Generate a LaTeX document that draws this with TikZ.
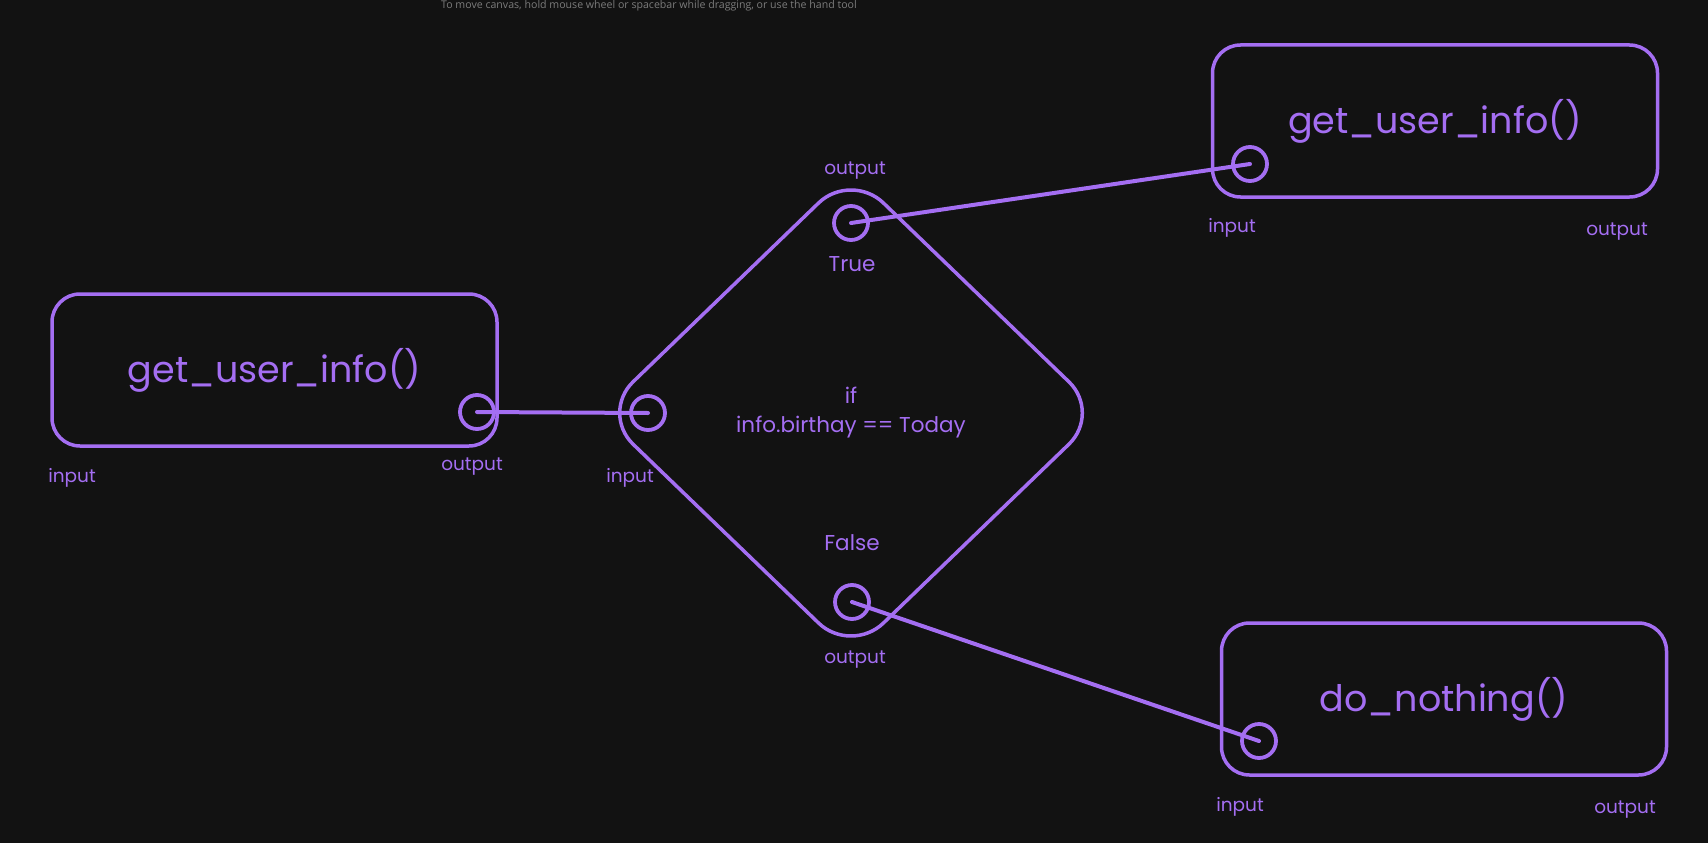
\documentclass[tikz,border=0pt]{standalone}
\usepackage{fontspec}
\setmainfont{Poppins}
\newfontfamily\hintfont{Open Sans}
\usetikzlibrary{shapes.geometric}
\definecolor{bgc}{HTML}{121212}
\definecolor{pur}{HTML}{A46EF2}
\definecolor{hintc}{HTML}{7C7C7C}
\tikzset{
  fnbox/.style={draw=pur, line width=3.5pt, rounded corners=28pt, minimum width=445pt, minimum height=152pt, inner sep=0pt, text=pur, font=\fontsize{36.5}{40}\selectfont},
  port/.style={circle, draw=pur, line width=3.8pt, minimum size=34pt, inner sep=0pt},
  plabel/.style={text=pur, font=\fontsize{18.5}{21}\selectfont, inner sep=0pt},
  clabel/.style={text=pur, font=\fontsize{21.5}{24}\selectfont, inner sep=0pt},
  wire/.style={draw=pur, line width=4pt, line cap=round},
}
\begin{document}
\begin{tikzpicture}[x=1pt,y=-1pt]
\path[fill=bgc, use as bounding box] (0,0) rectangle (1708,843);
\node[text=hintc, font=\hintfont\fontsize{10.6}{13}\selectfont, inner sep=0pt] (hint) at (649,6) {To move canvas, hold mouse wheel or spacebar while dragging, or use the hand tool};

% left box
\node[fnbox] (b1) at (274.5,370) {get\_user\_info()};
\node[port] (b1out) at (477,412) {};
\node[plabel] (b1inl) at (72,478) {input};
\node[plabel] (b1outl) at (472,467) {output};

% diamond
\node[diamond, draw=pur, line width=3.5pt, rounded corners=45pt, minimum width=502pt, minimum height=484pt, inner sep=0pt, align=center, text=pur, font=\fontsize{21.5}{29}\selectfont] (d) at (851,413) {if\\info.birthay == Today};
\node[port] (din) at (648,413) {};
\node[port] (dtrue) at (851,223) {};
\node[port] (dfalse) at (852,602) {};
\node[clabel] (truel) at (852,264) {True};
\node[clabel] (falsel) at (852,543) {False};
\node[plabel] (dinl) at (630,478) {input};
\node[plabel] (doutt) at (855,171) {output};
\node[plabel] (doutb) at (855,660) {output};

% top right box
\node[fnbox] (b2) at (1435,121) {get\_user\_info()};
\node[port] (b2in) at (1250,164) {};
\node[plabel] (b2inl) at (1232,228) {input};
\node[plabel] (b2outl) at (1617,232) {output};

% bottom right box
\node[fnbox] (b3) at (1444,699) {do\_nothing()};
\node[port] (b3in) at (1259,741) {};
\node[plabel] (b3inl) at (1240,807) {input};
\node[plabel] (b3outl) at (1625,810) {output};

% wires
\draw[wire] (b1out.center) -- (din.center);
\draw[wire] (dtrue.center) -- (b2in.center);
\draw[wire] (dfalse.center) -- (b3in.center);
\end{tikzpicture}
\end{document}
